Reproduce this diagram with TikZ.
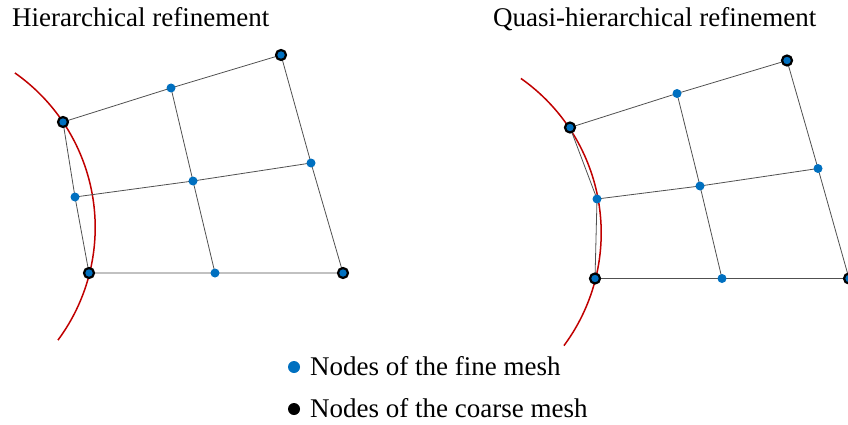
\documentclass[tikz,border=0pt]{standalone}
\usepackage{fontspec}
\setmainfont{Liberation Serif}
\definecolor{nodeblue}{RGB}{0,112,192}
\definecolor{arcred}{RGB}{192,0,0}
\definecolor{meshgray}{RGB}{80,80,80}
\tikzset{
  fine/.style={circle, fill=nodeblue, inner sep=0pt, minimum size=9pt},
  coarse/.style={circle, fill=nodeblue, draw=black, line width=2.2pt, inner sep=0pt, minimum size=10pt},
  meshedge/.style={draw=meshgray, line width=0.8pt},
  boundary/.style={draw=arcred, line width=1.5pt},
  lbl/.style={font=\fontsize{27}{32}\selectfont, inner sep=0pt, anchor=base west},
  legdot/.style={circle, inner sep=0pt, minimum size=12pt}
}
\begin{document}
\begin{tikzpicture}[x=1pt, y=-1pt]
\useasboundingbox (0,0) rectangle (848,425);
% titles
\node[lbl] (t1) at (12,27) {Hierarchical refinement};
\node[lbl] (t2) at (493,27) {Quasi-hierarchical refinement};
% boundary arcs
\begin{scope}[x=1pt, y=1pt]
\draw[boundary] (-93.7,-227.5) ++(54.9:188.9) arc[start angle=54.9, end angle=-36.6, radius=188.9];
\draw[boundary] (412.3,-233) ++(54.9:188.9) arc[start angle=54.9, end angle=-36.6, radius=188.9];
\end{scope}
% ---------- left diagram ----------
\coordinate (LA) at (63,122);
\coordinate (LB) at (281,55);
\coordinate (LC) at (343,273);
\coordinate (LD) at (89,273);
\coordinate (Lab) at (171,88);
\coordinate (Lbc) at (311,163);
\coordinate (Lcd) at (215,273);
\coordinate (Lda) at (75,197);
\coordinate (Lm) at (193,181);
\draw[meshedge] (LA) -- (Lab) -- (LB) -- (Lbc) -- (LC) -- (Lcd) -- (LD) -- (Lda) -- (LA);
\draw[meshedge] (Lab) -- (Lm) -- (Lcd);
\draw[meshedge] (Lda) -- (Lm) -- (Lbc);
\foreach \p in {Lab,Lbc,Lcd,Lda,Lm} \node[fine] (n\p) at (\p) {};
\foreach \p in {LA,LB,LC,LD} \node[coarse] (n\p) at (\p) {};
% ---------- right diagram ----------
\coordinate (RA) at (570,127.5);
\coordinate (RB) at (787,60.5);
\coordinate (RC) at (849,278.5);
\coordinate (RD) at (595,278.5);
\coordinate (Rab) at (677,93.5);
\coordinate (Rbc) at (818,168.5);
\coordinate (Rcd) at (722,278.5);
\coordinate (Rda) at (597,199);
\coordinate (Rm) at (700,186);
\draw[meshedge] (RA) -- (Rab) -- (RB) -- (Rbc) -- (RC) -- (Rcd) -- (RD) -- (Rda) -- (RA);
\draw[meshedge] (Rab) -- (Rm) -- (Rcd);
\draw[meshedge] (Rda) -- (Rm) -- (Rbc);
\foreach \p in {Rab,Rbc,Rcd,Rda,Rm} \node[fine] (n\p) at (\p) {};
\foreach \p in {RA,RB,RC,RD} \node[coarse] (n\p) at (\p) {};
% ---------- legend ----------
\node[legdot, fill=nodeblue] (d1) at (294,367) {};
\node[legdot, fill=black] (d2) at (294,409) {};
\node[lbl] (l1) at (310,375) {Nodes of the fine mesh};
\node[lbl] (l2) at (310,417) {Nodes of the coarse mesh};
\end{tikzpicture}
\end{document}
